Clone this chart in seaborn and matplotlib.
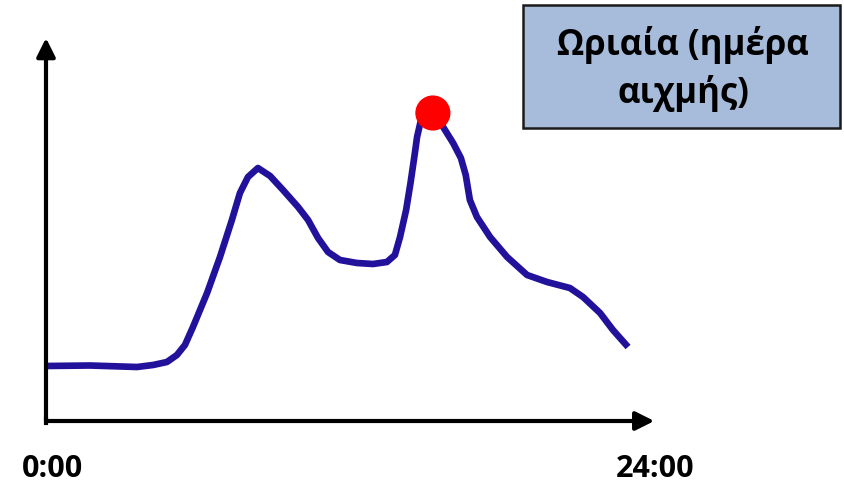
import matplotlib
matplotlib.use("Agg")
import matplotlib.pyplot as plt
import seaborn as sns
import pandas as pd
from matplotlib.patches import FancyArrowPatch, Rectangle

# Data: hour of day vs load (arbitrary units)
hours = [0.0, 1.81, 3.74, 4.40, 4.97, 5.38, 5.71, 6.04, 6.62, 7.15, 7.64, 7.97,
         8.30, 8.71, 9.21, 9.74, 10.36, 10.77, 11.18, 11.59, 12.08, 12.78,
         13.44, 14.01, 14.34, 14.55, 14.80, 14.98, 15.16, 15.25, 15.41, 15.66,
         15.90, 16.32, 16.73, 17.05, 17.25, 17.42, 17.71, 18.25, 18.95, 19.77,
         20.59, 21.53, 22.07, 22.77, 23.30, 23.92]
load = [55, 55.5, 54, 56, 59, 66, 76, 94, 128, 164, 201, 228,
        244, 253, 245, 231, 214, 201, 183, 169, 161, 158,
        157, 159, 166, 184, 211, 238, 268, 284, 301, 310,
        308, 294, 278, 263, 246, 221, 204, 184, 164, 146,
        139, 133, 124, 108, 91, 74]
peak_hour = [15.90]
peak_load = [308]
x_labels = ["0:00", "24:00"]
title_text = "Ωριαία (ημέρα\nαιχμής)"

sns.set_theme(style="white")
plt.rcParams['font.family'] = ['Open Sans', 'DejaVu Sans']

fig = plt.figure(figsize=(8.44, 4.83), dpi=100)
ax = fig.add_axes([0, 0, 1, 1])
ax.set_xlim(-1.890, 32.795)
ax.set_ylim(-62, 421)
ax.axis("off")

df = pd.DataFrame({"hour": hours, "load": load})
sns.lineplot(data=df, x="hour", y="load", ax=ax, color="#22119a",
             linewidth=4.8, sort=False, solid_joinstyle="round",
             solid_capstyle="butt")
sns.scatterplot(x=peak_hour, y=peak_load, ax=ax, color="#ff0000", s=640,
                edgecolor="none", zorder=5)

# axes with arrows
for start, end in [((0, 0), (25.0, 0)), ((0, 0), (0, 383))]:
    arr = FancyArrowPatch(start, end, arrowstyle="-|>,head_length=0.8,head_width=0.4",
                          mutation_scale=14, color="black", linewidth=3,
                          shrinkA=0, shrinkB=0, zorder=3)
    ax.add_patch(arr)
# closed corner
ax.plot([0, 0], [-1.5, 2], color="black", lw=3, solid_capstyle="projecting")

# axis labels
ax.text(0.25, -48, x_labels[0], ha="center", va="center", fontsize=22,
        fontweight="bold", color="black")
ax.text(25.05, -48, x_labels[1], ha="center", va="center", fontsize=22,
        fontweight="bold", color="black")

# title box (in figure pixel coords)
rect = Rectangle((523 / 844, 1 - 128 / 483), (840 - 523) / 844, (128 - 5) / 483,
                 transform=fig.transFigure, facecolor="#a7bcda",
                 edgecolor="#1a1a1a", linewidth=1.8, zorder=6)
fig.patches.append(rect)
fig.text(683 / 844, 1 - 69 / 483, title_text, ha="center", va="center",
         fontsize=25, fontweight="bold", color="black", linespacing=1.42,
         zorder=7)

fig.savefig("out.png", dpi=100)
